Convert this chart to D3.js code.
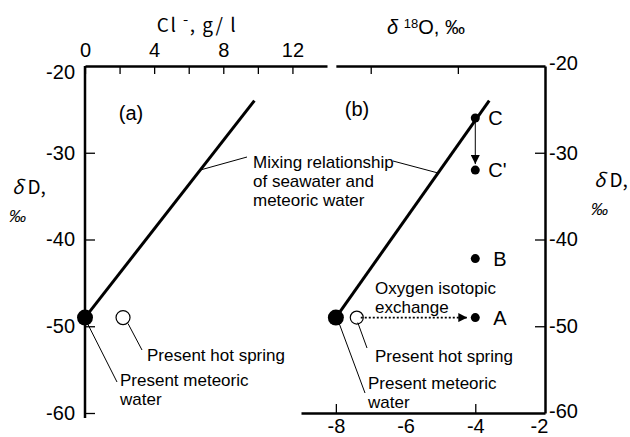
<!DOCTYPE html>
<html>
<head>
<meta charset="utf-8">
<script src="https://cdn.jsdelivr.net/npm/d3@7"></script>
<style>
  body { margin: 0; background: #fff; }
  svg { display: block; }
  text { font-family: "Liberation Sans", Arial, sans-serif; fill: #000; }
</style>
</head>
<body>
<div class="chart"></div>
<script>
// tick labels
var clTicks = [0, 2, 4, 6, 8, 10, 12];
var clLabels = [0, 4, 8, 12];
var dDTicks = [-20, -30, -40, -50, -60];
var o18Labels = [-8, -6, -4, -2];
var o18BottomTicks = [-8, -4];
var o18TopTicks = [-7, -4.5];

// (a) Cl- vs dD
var meteoricA = [0, -49];
var hotSpringA = [2.2, -49];
var mixingA = [[0, -49], [9.8, -24]];

// (b) d18O vs dD
var meteoricB = [-8, -49];
var hotSpringB = [-7.4, -49];
var mixingB = [[-8, -49], [-3.6, -24]];
var pointNames = ["C", "C'", "B", "A"];
var pointO18 = [-4, -4, -4, -4];
var pointDD = [-26, -32, -42.2, -49];

var width = 630, height = 437;
var svg = d3.select(".chart").append("svg")
  .attr("width", width)
  .attr("height", height);

var defs = svg.append("defs");
defs.append("marker")
  .attr("id", "head")
  .attr("viewBox", "0 0 10 10")
  .attr("refX", 10).attr("refY", 5)
  .attr("markerWidth", 9).attr("markerHeight", 9)
  .attr("markerUnits", "userSpaceOnUse")
  .attr("orient", "auto")
  .append("path").attr("d", "M0,0L10,5L0,10Z").attr("fill", "#000");

var yD = d3.scaleLinear().domain([-20, -60]).range([66, 413]);
var xCl = d3.scaleLinear().domain([0, 14]).range([85, 327]);
var xO = d3.scaleLinear().domain([-9, -2]).range([301, 545]);
var xOtop = xO.copy().domain([-8, -2]).range([xO(-8), xO(-2)]);

function styleAxis(g) {
  g.selectAll(".domain").attr("stroke-width", 2.5).attr("stroke", "#000");
  g.selectAll(".tick line").attr("stroke-width", 1.3).attr("stroke", "#000");
  g.selectAll("text").attr("font-size", 20).attr("font-family", "Liberation Sans, Arial, sans-serif");
}

// axes
svg.append("g").attr("transform", "translate(0," + yD(-20) + ")")
  .call(d3.axisTop(xCl).tickValues(clTicks).tickSizeInner(-8).tickSizeOuter(0).tickPadding(9)
    .tickFormat(function(d) { return clLabels.indexOf(d) >= 0 ? d : ""; }))
  .call(styleAxis);

svg.append("g").attr("transform", "translate(0," + yD(-20) + ")")
  .call(d3.axisTop(xOtop).tickValues(o18TopTicks).tickSizeInner(-8).tickSizeOuter(0).tickFormat(""))
  .call(styleAxis);

var left = svg.append("g").attr("transform", "translate(" + xCl(0) + ",0)")
  .call(d3.axisLeft(yD).tickValues(dDTicks).tickSizeInner(-10).tickSizeOuter(0).tickPadding(10)
    .tickFormat(String))
  .call(styleAxis);
left.select(".domain").attr("d", "M0," + yD(-20) + "V" + (yD(-60) + 5));
left.selectAll(".tick").filter(function(d) { return d === -20; }).select("line").remove();
left.selectAll(".tick").filter(function(d) { return d === -20; }).select("text").attr("dy", "0.6em");

var right = svg.append("g").attr("transform", "translate(" + xO(-2) + ",0)")
  .call(d3.axisRight(yD).tickValues(dDTicks).tickSizeInner(-10).tickSizeOuter(0).tickPadding(4)
    .tickFormat(String))
  .call(styleAxis);
right.selectAll(".tick").filter(function(d) { return d === -20 || d === -60; }).select("line").remove();
right.selectAll(".tick").filter(function(d) { return d === -20; }).select("text").attr("dy", "0.15em");
right.selectAll(".tick").filter(function(d) { return d === -60; }).select("text").attr("dy", "0.2em");

var bottom = svg.append("g").attr("transform", "translate(0," + yD(-60) + ")")
  .call(d3.axisBottom(xO).tickValues(o18Labels).tickSizeInner(-9).tickSizeOuter(0).tickPadding(6)
    .tickFormat(String))
  .call(styleAxis);
bottom.selectAll(".tick").filter(function(d) { return o18BottomTicks.indexOf(d) < 0; }).select("line").remove();
bottom.selectAll(".tick").filter(function(d) { return d === -2; }).select("text").attr("dx", -6);

// axis titles
var clTitle = svg.append("text").attr("x", 197).attr("y", 32)
  .attr("text-anchor", "middle").attr("font-size", 19)
  .style("font-family", "'Noto Sans CJK JP', 'DejaVu Sans', sans-serif")
  .style("letter-spacing", "1.5px");
clTitle.append("tspan").text("Cl ");
clTitle.append("tspan").attr("dy", -7).attr("font-size", 15).text("-");
clTitle.append("tspan").attr("dy", 7).text(", g/ l");

var oTitle = svg.append("text").attr("x", 426).attr("y", 34)
  .attr("text-anchor", "middle").attr("font-size", 20);
oTitle.append("tspan").attr("font-style", "italic").text("δ ");
oTitle.append("tspan").attr("dy", -6).attr("font-size", 13).text("18");
oTitle.append("tspan").attr("dy", 6).text("O, ‰");

function dDTitle(x, y) {
  var t = svg.append("text").attr("x", x).attr("y", y).attr("font-size", 19)
    .style("font-family", "'Noto Sans CJK JP', 'DejaVu Sans', sans-serif");
  t.append("tspan").attr("font-style", "italic").text("δ");
  t.append("tspan").text(" D,");
  svg.append("text").attr("x", x - 3).attr("y", y + 28).attr("font-size", 17)
    .attr("font-style", "italic").text("‰");
}
dDTitle(12, 194);
dDTitle(594, 187);

svg.append("text").attr("x", 131).attr("y", 120).attr("text-anchor", "middle")
  .attr("font-size", 20).text("(a)");
svg.append("text").attr("x", 357).attr("y", 116).attr("text-anchor", "middle")
  .attr("font-size", 20).text("(b)");

// mixing lines
var lineA = d3.line().x(function(d) { return xCl(d[0]); }).y(function(d) { return yD(d[1]); });
var lineB = d3.line().x(function(d) { return xO(d[0]); }).y(function(d) { return yD(d[1]); });
svg.append("path").attr("d", lineA(mixingA)).attr("stroke", "#000").attr("stroke-width", 3).attr("fill", "none");
svg.append("path").attr("d", lineB(mixingB)).attr("stroke", "#000").attr("stroke-width", 3).attr("fill", "none");

// leader lines
function leader(x1, y1, x2, y2) {
  svg.append("line").attr("x1", x1).attr("y1", y1).attr("x2", x2).attr("y2", y2)
    .attr("stroke", "#000").attr("stroke-width", 1);
}
function label(x, y, lines) {
  var t = svg.append("text").attr("x", x).attr("y", y).attr("font-size", 17);
  lines.forEach(function(s, i) {
    t.append("tspan").attr("x", x).attr("dy", i ? 19 : 0).text(s);
  });
}
function lineAt(seg, y, xs) {
  var t = (yD.invert(y) - seg[0][1]) / (seg[1][1] - seg[0][1]);
  return xs(seg[0][0] + t * (seg[1][0] - seg[0][0]));
}

// mixing relationship label
leader(lineAt(mixingA, 170, xCl), 170, 247, 157);
leader(393, 161, lineAt(mixingB, 173, xO), 173);
label(253, 168, ["Mixing relationship", "of seawater and", "meteoric water"]);

// (a) annotations
leader(xCl(meteoricA[0]) + 2, yD(meteoricA[1]) + 5, 117, 382);
leader(xCl(hotSpringA[0]) + 5, yD(hotSpringA[1]) + 6, 142, 350);
label(147, 361, ["Present hot spring"]);
label(120, 386, ["Present meteoric", "water"]);

// (b) annotations
leader(xO(meteoricB[0]) + 3, yD(meteoricB[1]) + 5, 365, 393);
leader(xO(hotSpringB[0]) + 1, yD(hotSpringB[1]) + 5, 367, 348);
label(375, 362, ["Present hot spring"]);
label(368, 389, ["Present meteoric", "water"]);
label(375, 294, ["Oxygen isotopic", "exchange"]);

// oxygen isotopic exchange arrow
svg.append("line")
  .attr("x1", xO(hotSpringB[0]) + 4).attr("y1", yD(hotSpringB[1]))
  .attr("x2", xO(pointO18[3]) - 8).attr("y2", yD(pointDD[3]))
  .attr("stroke", "#000").attr("stroke-width", 1.6)
  .attr("stroke-dasharray", "2,2")
  .attr("marker-end", "url(#head)");

// C -> C' arrow
svg.append("line")
  .attr("x1", xO(pointO18[0])).attr("y1", yD(pointDD[0]))
  .attr("x2", xO(pointO18[1])).attr("y2", yD(pointDD[1]) - 6)
  .attr("stroke", "#000").attr("stroke-width", 1)
  .attr("marker-end", "url(#head)");

// markers
svg.append("circle").attr("cx", xCl(hotSpringA[0])).attr("cy", yD(hotSpringA[1])).attr("r", 7)
  .attr("fill", "#fff").attr("stroke", "#000").attr("stroke-width", 1.2);
svg.append("circle").attr("cx", xCl(meteoricA[0])).attr("cy", yD(meteoricA[1])).attr("r", 8).attr("fill", "#000");

svg.append("circle").attr("cx", xO(hotSpringB[0])).attr("cy", yD(hotSpringB[1])).attr("r", 6.5)
  .attr("fill", "none").attr("stroke", "#000").attr("stroke-width", 1.2);
svg.append("circle").attr("cx", xO(meteoricB[0])).attr("cy", yD(meteoricB[1])).attr("r", 8).attr("fill", "#000");

var pts = pointNames.map(function(n, i) { return {name: n, o: pointO18[i], d: pointDD[i]}; });
svg.selectAll(".pt").data(pts).enter().append("circle")
  .attr("class", "pt")
  .attr("cx", function(d) { return xO(d.o); })
  .attr("cy", function(d) { return yD(d.d); })
  .attr("r", 4.5).attr("fill", "#000");
svg.selectAll(".ptlabel").data(pts).enter().append("text")
  .attr("class", "ptlabel")
  .attr("x", function(d) { return xO(d.o) + (d.name === "C" || d.name === "C'" ? 13 : 18); })
  .attr("y", function(d) { return yD(d.d) + 7; })
  .attr("font-size", 20)
  .text(function(d) { return d.name; });
</script>
</body>
</html>
